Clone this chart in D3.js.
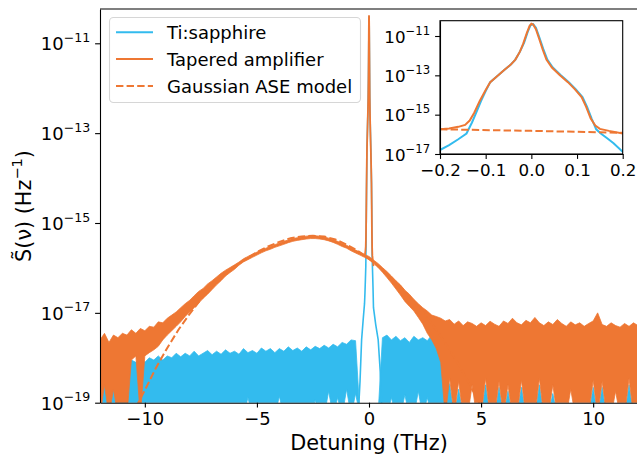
<!DOCTYPE html>
<html>
<head>
<meta charset="utf-8">
<style>
  body { margin: 0; background: #fff; }
  svg text { font-family: "DejaVu Sans", sans-serif; }
</style>
</head>
<body>
<script src="https://d3js.org/d3.v7.min.js"></script>
<script>
// detuning grid (THz) for the broadband spectra
const freq = [-12,-11.8,-11.6,-11.4,-11.2,-11,-10.8,-10.6,-10.4,-10.2,-10,-9.8,-9.6,-9.4,-9.2,-9,-8.8,-8.6,-8.4,-8.2,
  -8,-7.8,-7.6,-7.4,-7.2,-7,-6.8,-6.6,-6.4,-6.2,-6,-5.8,-5.6,-5.4,-5.2,-5,-4.8,-4.6,-4.4,-4.2,
  -4,-3.8,-3.6,-3.4,-3.2,-3,-2.8,-2.6,-2.4,-2.2,-2,-1.8,-1.6,-1.4,-1.2,-1,-0.8,-0.6,-0.4,-0.2,
  0,0.2,0.4,0.6,0.8,1,1.2,1.4,1.6,1.8,2,2.2,2.4,2.6,2.8,3,3.2,3.4,3.6,3.8,
  4,4.2,4.4,4.6,4.8,5,5.2,5.4,5.6,5.8,6,6.2,6.4,6.6,6.8,7,7.2,7.4,7.6,7.8,
  8,8.2,8.4,8.6,8.8,9,9.2,9.4,9.6,9.8,10,10.2,10.4,10.6,10.8,11,11.2,11.4,11.6,11.8,12];

// tapered amplifier: upper / lower edge of the noisy trace (Hz^-1)
const taHigh = [2.5e-18,3.5e-18,2.2e-18,3.2e-18,2.8e-18,3.5e-18,3.2e-18,4.2e-18,3.5e-18,4.5e-18,
  4.0e-18,5.0e-18,4.8e-18,6.3e-18,6.0e-18,7.6e-18,8.9e-18,1.05e-17,1.3e-17,1.6e-17,
  1.9e-17,2.4e-17,3.0e-17,3.5e-17,4.4e-17,5.2e-17,6.3e-17,7.6e-17,8.9e-17,1.02e-16,
  1.17e-16,1.35e-16,1.6e-16,1.8e-16,2.0e-16,2.25e-16,2.5e-16,2.75e-16,3.0e-16,3.3e-16,
  3.6e-16,3.9e-16,4.2e-16,4.5e-16,4.7e-16,4.9e-16,5.1e-16,5.2e-16,5.2e-16,5.1e-16,
  4.9e-16,4.6e-16,4.3e-16,3.9e-16,3.5e-16,3.2e-16,2.8e-16,2.5e-16,2.25e-16,2.0e-16,
  1.8e-16,1.5e-16,1.26e-16,1.02e-16,8.3e-17,6.6e-17,5.2e-17,4.2e-17,3.2e-17,2.6e-17,
  2.0e-17,1.6e-17,1.3e-17,1.1e-17,8.9e-18,8.3e-18,7.6e-18,6.6e-18,7.1e-18,5.6e-18,
  6.6e-18,5.2e-18,6.3e-18,5.8e-18,5.0e-18,6.0e-18,5.2e-18,6.5e-18,5.6e-18,5.0e-18,
  6.6e-18,5.8e-18,7.6e-18,6.0e-18,5.4e-18,6.8e-18,6.0e-18,7.9e-18,6.0e-18,5.2e-18,
  6.3e-18,5.5e-18,7.1e-18,5.8e-18,5.0e-18,6.3e-18,5.4e-18,6.0e-18,5.0e-18,5.8e-18,
  6.6e-18,1.0e-17,5.5e-18,5.0e-18,6.0e-18,5.2e-18,4.8e-18,5.8e-18,5.0e-18,6.0e-18,5.2e-18];
const taLow = [5e-20,2.5e-19,5e-20,2.0e-19,5e-20,5e-20,5e-20,8.9e-19,1.1e-18,5e-20,
  1.1e-18,1.3e-18,1.5e-18,1.8e-18,2.5e-18,3.2e-18,4.0e-18,5.0e-18,6.3e-18,8.3e-18,
  1.05e-17,1.3e-17,1.65e-17,2.1e-17,2.6e-17,3.3e-17,4.2e-17,5.2e-17,6.6e-17,7.9e-17,
  9.3e-17,1.15e-16,1.36e-16,1.53e-16,1.72e-16,1.93e-16,2.17e-16,2.4e-16,2.6e-16,2.87e-16,
  3.1e-16,3.35e-16,3.65e-16,3.9e-16,4.1e-16,4.25e-16,4.4e-16,4.5e-16,4.5e-16,4.4e-16,
  4.25e-16,4.0e-16,3.7e-16,3.35e-16,3.0e-16,2.75e-16,2.4e-16,2.15e-16,1.93e-16,1.72e-16,
  1.53e-16,1.28e-16,1.03e-16,8.0e-17,6.1e-17,4.6e-17,3.4e-17,2.5e-17,1.8e-17,1.4e-17,
  1.1e-17,7.9e-18,5.6e-18,3.5e-18,2.5e-18,1.6e-18,7.9e-19,5e-20,3.5e-19,5e-20,
  3.0e-19,5e-20,5e-20,2.5e-19,5e-20,5e-20,3.5e-19,5e-20,5e-20,3.0e-19,
  5e-20,2.5e-19,5e-20,5e-20,3.2e-19,5e-20,5e-20,5e-20,3.5e-19,5e-20,
  5e-20,2.5e-19,5e-20,5e-20,5e-20,2.0e-19,5e-20,5e-20,5e-20,5e-20,
  3.2e-19,5e-20,3.0e-19,5e-20,5e-20,1.8e-19,5e-20,5e-20,3.5e-19,5e-20,5e-20];

// Ti:sapphire: upper edge of the noise floor, plus the few places it lifts off the bottom
const tiHigh = [5.0e-19,2.5e-19,6.3e-19,3.2e-19,5.0e-19,7.9e-19,6.3e-19,8.9e-19,7.9e-19,1.0e-18,
  7.9e-19,1.0e-18,8.9e-19,1.1e-18,8.9e-19,1.1e-18,1.0e-18,1.26e-18,1.05e-18,1.26e-18,
  1.1e-18,1.4e-18,1.1e-18,1.26e-18,1.45e-18,1.17e-18,1.4e-18,1.2e-18,1.5e-18,1.26e-18,
  1.4e-18,1.2e-18,1.6e-18,1.3e-18,1.45e-18,1.26e-18,1.65e-18,1.4e-18,1.6e-18,1.3e-18,
  1.6e-18,1.4e-18,1.75e-18,1.45e-18,1.65e-18,1.4e-18,1.75e-18,1.5e-18,1.8e-18,1.6e-18,
  1.9e-18,1.65e-18,2.0e-18,1.75e-18,2.2e-18,2.0e-18,2.5e-18,2.4e-18,5e-20,5e-20,
  5e-20,5e-20,5e-20,2.8e-18,3.2e-18,2.5e-18,3.0e-18,2.4e-18,2.8e-18,2.2e-18,
  3.0e-18,2.5e-18,2.8e-18,2.4e-18,3.2e-18,2.6e-18,2.2e-18,4.0e-19,2.5e-19,5e-20,
  2.0e-19,5e-20,5e-20,5e-20,5e-20,5e-20,2.5e-19,5e-20,5e-20,2.2e-19,
  5e-20,1.8e-19,5e-20,5e-20,2.2e-19,5e-20,5e-20,5e-20,2.5e-19,5e-20,
  5e-20,1.6e-19,5e-20,5e-20,5e-20,5e-20,5e-20,5e-20,5e-20,5e-20,
  2.2e-19,5e-20,2.2e-19,5e-20,5e-20,5e-20,5e-20,5e-20,2.5e-19,5e-20,5e-20];
const tiFloor = 5e-20;
const tiGapFreq = [-5.4, -4, -2.4, -1.8, -1.4, -1, -0.6, 1, 1.6, 2.2, 2.6];
const tiGapLevel = [1.3e-19, 1.4e-19, 1.15e-19, 1.8e-19, 1.3e-19, 2.0e-19, 1.6e-19, 1.3e-19, 1.5e-19, 1.8e-19, 1.3e-19];

// narrow carrier peaks (also shown in the inset)
const tiPeakFreq = [-0.46,-0.4,-0.33,-0.26,-0.2,-0.18,-0.16,-0.142,-0.13,-0.12,-0.11,-0.1,-0.09,-0.075,-0.06,-0.045,-0.035,-0.025,-0.016,-0.008,
  -0.002,0.004,0.01,0.018,0.026,0.035,0.047,0.064,0.082,0.097,0.112,0.122,0.132,0.142,0.152,0.166,0.18,0.2,0.3,0.41,0.5,0.57];
const tiPeakLevel = [8e-20,3e-19,2.5e-18,7e-18,1.6e-17,2.8e-17,5.6e-17,1.1e-16,4.0e-16,1.4e-15,5.0e-15,1.6e-14,4.5e-14,8.9e-14,1.8e-13,3.5e-13,6.3e-13,1.6e-12,4.5e-12,1.6e-11,
  3.5e-11,4.0e-11,2.6e-11,7.9e-12,2.2e-12,6.3e-13,2.5e-13,1.05e-13,4.5e-14,2.0e-14,7.9e-15,2.5e-15,6.3e-16,1.8e-16,1.1e-16,6.3e-17,3.5e-17,1.3e-17,5.5e-18,2.5e-18,5e-19,8e-20];
const taPeakFreq = [-0.2,-0.18,-0.16,-0.145,-0.135,-0.125,-0.113,-0.1,-0.09,-0.075,-0.06,-0.045,-0.035,-0.025,-0.018,-0.01,-0.004,0,0.004,0.01,
  0.018,0.025,0.033,0.045,0.062,0.08,0.095,0.11,0.12,0.13,0.14,0.15,0.17,0.2];
const taPeakLevel = [1.8e-16,2.0e-16,2.4e-16,3.0e-16,5.0e-16,1.26e-15,5.0e-15,1.8e-14,4.5e-14,8.9e-14,1.8e-13,3.5e-13,6.3e-13,1.6e-12,4.0e-12,1.4e-11,3.2e-11,4.2e-11,3.8e-11,2.2e-11,
  6.3e-12,2.0e-12,6.3e-13,2.5e-13,1.05e-13,4.5e-14,2.0e-14,7.9e-15,2.5e-15,6.3e-16,2.8e-16,1.9e-16,1.5e-16,1.1e-16];

// Gaussian ASE model
const aseFreq = [-10.4,-10,-9.5,-9,-8.5,-8,-7.5,-7,-6.5,-6,-5.5,-5,-4.5,-4,-3.5,-3,-2.5,-2,-1.5,-1,-0.5,0,0.5,1,1.5,2,2.5,3,3.5,4,4.5,5];
const aseLevel = [7.9e-20,1.9e-19,6.0e-19,1.66e-18,4.2e-18,9.5e-18,2.0e-17,3.8e-17,6.6e-17,1.05e-16,1.6e-16,2.25e-16,3.0e-16,3.8e-16,4.6e-16,5.0e-16,5.2e-16,5.0e-16,4.3e-16,3.3e-16,
  2.4e-16,1.6e-16,1.0e-16,6.0e-17,3.4e-17,1.8e-17,8.9e-18,4.2e-18,1.8e-18,7.1e-19,2.5e-19,8.3e-20];
const aseInsetFreq = [-0.2, 0, 0.2];
const aseInsetLevel = [1.8e-16, 1.5e-16, 1.2e-16];

const mainXTicks = [-10, -5, 0, 5, 10];
const mainYTicks = [1e-19, 1e-17, 1e-15, 1e-13, 1e-11];
const insetXTicks = [-0.2, -0.1, 0, 0.1, 0.2];
const insetYTicks = [1e-17, 1e-15, 1e-13, 1e-11];

const legendLabels = ['Ti:sapphire', 'Tapered amplifier', 'Gaussian ASE model'];
const cyan = '#33bbee', orange = '#ee7733';

const svg = d3.select('body').append('svg')
  .attr('width', 637)
  .attr('height', 458);

// main axes
const mx = d3.scaleLinear().domain([-12, 12]).range([100, 638]);
const my = d3.scaleLog().domain([1e-19, 5.8e-11]).range([402.7, 9]);

svg.append('clipPath').attr('id', 'clipMain')
  .append('rect').attr('x', 100).attr('y', 9).attr('width', 538).attr('height', 393.7);

const plot = svg.append('g').attr('clip-path', 'url(#clipMain)');

const tiRows = freq.map((f, i) => {
  const gap = tiGapFreq.indexOf(f);
  return { f, hi: tiHigh[i], lo: gap >= 0 ? tiGapLevel[gap] : tiFloor };
});
const taRows = freq.map((f, i) => ({ f, hi: taHigh[i], lo: taLow[i] }));

const band = d3.area()
  .x(d => mx(d.f))
  .y0(d => my(d.lo))
  .y1(d => my(d.hi));

const mline = d3.line().x(d => mx(d[0])).y(d => my(d[1]));

plot.append('path')
  .datum(tiRows)
  .attr('d', band)
  .attr('fill', cyan)
  .attr('stroke', cyan)
  .attr('stroke-width', 0.8);

plot.append('path')
  .datum(d3.zip(tiPeakFreq, tiPeakLevel))
  .attr('d', mline)
  .attr('fill', 'none')
  .attr('stroke', cyan)
  .attr('stroke-width', 1.6);

plot.append('path')
  .datum(taRows)
  .attr('d', band)
  .attr('fill', orange)
  .attr('stroke', orange)
  .attr('stroke-width', 0.8);

plot.append('path')
  .datum(d3.zip(taPeakFreq, taPeakLevel))
  .attr('d', mline)
  .attr('fill', 'none')
  .attr('stroke', orange)
  .attr('stroke-width', 1.8);

plot.append('path')
  .datum(d3.zip(aseFreq, aseLevel))
  .attr('d', mline)
  .attr('fill', 'none')
  .attr('stroke', orange)
  .attr('stroke-width', 2)
  .attr('stroke-dasharray', '7.4,3.2');

// power-of-ten tick labels with a raised exponent
function powLabels(g, size) {
  g.selectAll('.tick text')
    .attr('dy', null)
    .attr('y', size * 0.36)
    .text(null)
    .each(function (d) {
      const t = d3.select(this);
      t.append('tspan').text('10');
      t.append('tspan')
        .attr('dy', -size * 0.47)
        .attr('font-size', size * 0.7)
        .text(d3.format('d')(Math.round(Math.log10(d))));
    });
}

function styleAxis(g, size) {
  g.attr('font-family', '"DejaVu Sans", sans-serif').attr('font-size', size);
  g.selectAll('path, line').attr('stroke', '#000').attr('stroke-width', 1.1);
  g.selectAll('text').attr('fill', '#000');
}

const xAxisG = svg.append('g')
  .attr('transform', 'translate(0,402.7)')
  .call(d3.axisBottom(mx).tickValues(mainXTicks).tickSize(4.9).tickPadding(4.9).tickSizeOuter(0).tickFormat(d3.format('d')));
styleAxis(xAxisG, 18);

const yAxisG = svg.append('g')
  .attr('transform', 'translate(100,0)')
  .call(d3.axisLeft(my).tickValues(mainYTicks).tickSize(4.9).tickPadding(4.9).tickSizeOuter(0));
styleAxis(yAxisG, 18);
powLabels(yAxisG, 18);

svg.append('line')
  .attr('x1', 100).attr('x2', 638).attr('y1', 9).attr('y2', 9)
  .attr('stroke', '#000').attr('stroke-width', 1.1);

svg.append('text')
  .attr('x', 369).attr('y', 450)
  .attr('text-anchor', 'middle')
  .attr('font-size', 20.8)
  .text('Detuning (THz)');

const yLabel = svg.append('text')
  .attr('transform', 'translate(31,206) rotate(-90)')
  .attr('text-anchor', 'middle')
  .attr('font-size', 20.8);
yLabel.append('tspan').text('S\u0303(\u03bd) (Hz');
yLabel.append('tspan').attr('dy', -9).attr('font-size', 14.5).text('\u22121');
yLabel.append('tspan').attr('dy', 9).text(')');

// legend
const legend = svg.append('g');
legend.append('rect')
  .attr('x', 109.5).attr('y', 17.5).attr('width', 251).attr('height', 85).attr('rx', 4)
  .attr('fill', '#fff').attr('fill-opacity', 0.8)
  .attr('stroke', '#d6d6d6').attr('stroke-width', 1.1);

const legendRows = legend.selectAll('g.row')
  .data(legendLabels)
  .join('g')
  .attr('class', 'row')
  .attr('transform', (d, i) => `translate(0,${32.3 + i * 26.8})`);

legendRows.append('line')
  .attr('x1', 116).attr('x2', 153)
  .attr('stroke', (d, i) => i === 0 ? cyan : orange)
  .attr('stroke-width', 2)
  .attr('stroke-dasharray', (d, i) => i === 2 ? '7.4,3.2' : null);

legendRows.append('text')
  .attr('x', 167).attr('y', 6.6)
  .attr('font-size', 18)
  .text(d => d);

// inset
const ix = d3.scaleLinear().domain([-0.2, 0.2]).range([440, 622.7]);
const iy = d3.scaleLog().domain([1e-17, 6e-11]).range([154, 20.7]);

svg.append('rect')
  .attr('x', 440).attr('y', 20.7).attr('width', 182.7).attr('height', 133.3)
  .attr('fill', '#fff');

svg.append('clipPath').attr('id', 'clipInset')
  .append('rect').attr('x', 440).attr('y', 20.7).attr('width', 182.7).attr('height', 133.3);

const inset = svg.append('g').attr('clip-path', 'url(#clipInset)');
const iline = d3.line().x(d => ix(d[0])).y(d => iy(d[1]));

inset.append('path')
  .datum(d3.zip(tiPeakFreq, tiPeakLevel))
  .attr('d', iline)
  .attr('fill', 'none')
  .attr('stroke', cyan)
  .attr('stroke-width', 2);

inset.append('path')
  .datum(d3.zip(taPeakFreq, taPeakLevel))
  .attr('d', iline)
  .attr('fill', 'none')
  .attr('stroke', orange)
  .attr('stroke-width', 2);

inset.append('path')
  .datum(d3.zip(aseInsetFreq, aseInsetLevel))
  .attr('d', iline)
  .attr('fill', 'none')
  .attr('stroke', orange)
  .attr('stroke-width', 2)
  .attr('stroke-dasharray', '7.4,3.2');

svg.append('rect')
  .attr('x', 440).attr('y', 20.7).attr('width', 182.7).attr('height', 133.3)
  .attr('fill', 'none').attr('stroke', '#000').attr('stroke-width', 1.1);

const ixAxisG = svg.append('g')
  .attr('transform', 'translate(0,154)')
  .call(d3.axisBottom(ix).tickValues(insetXTicks).tickSize(4.9).tickPadding(4.9).tickSizeOuter(0).tickFormat(d3.format('.1f')));
styleAxis(ixAxisG, 16.7);

const iyAxisG = svg.append('g')
  .attr('transform', 'translate(440,0)')
  .call(d3.axisLeft(iy).tickValues(insetYTicks).tickSize(4.9).tickPadding(4.9).tickSizeOuter(0));
styleAxis(iyAxisG, 16.7);
powLabels(iyAxisG, 16.7);
</script>
</body>
</html>
